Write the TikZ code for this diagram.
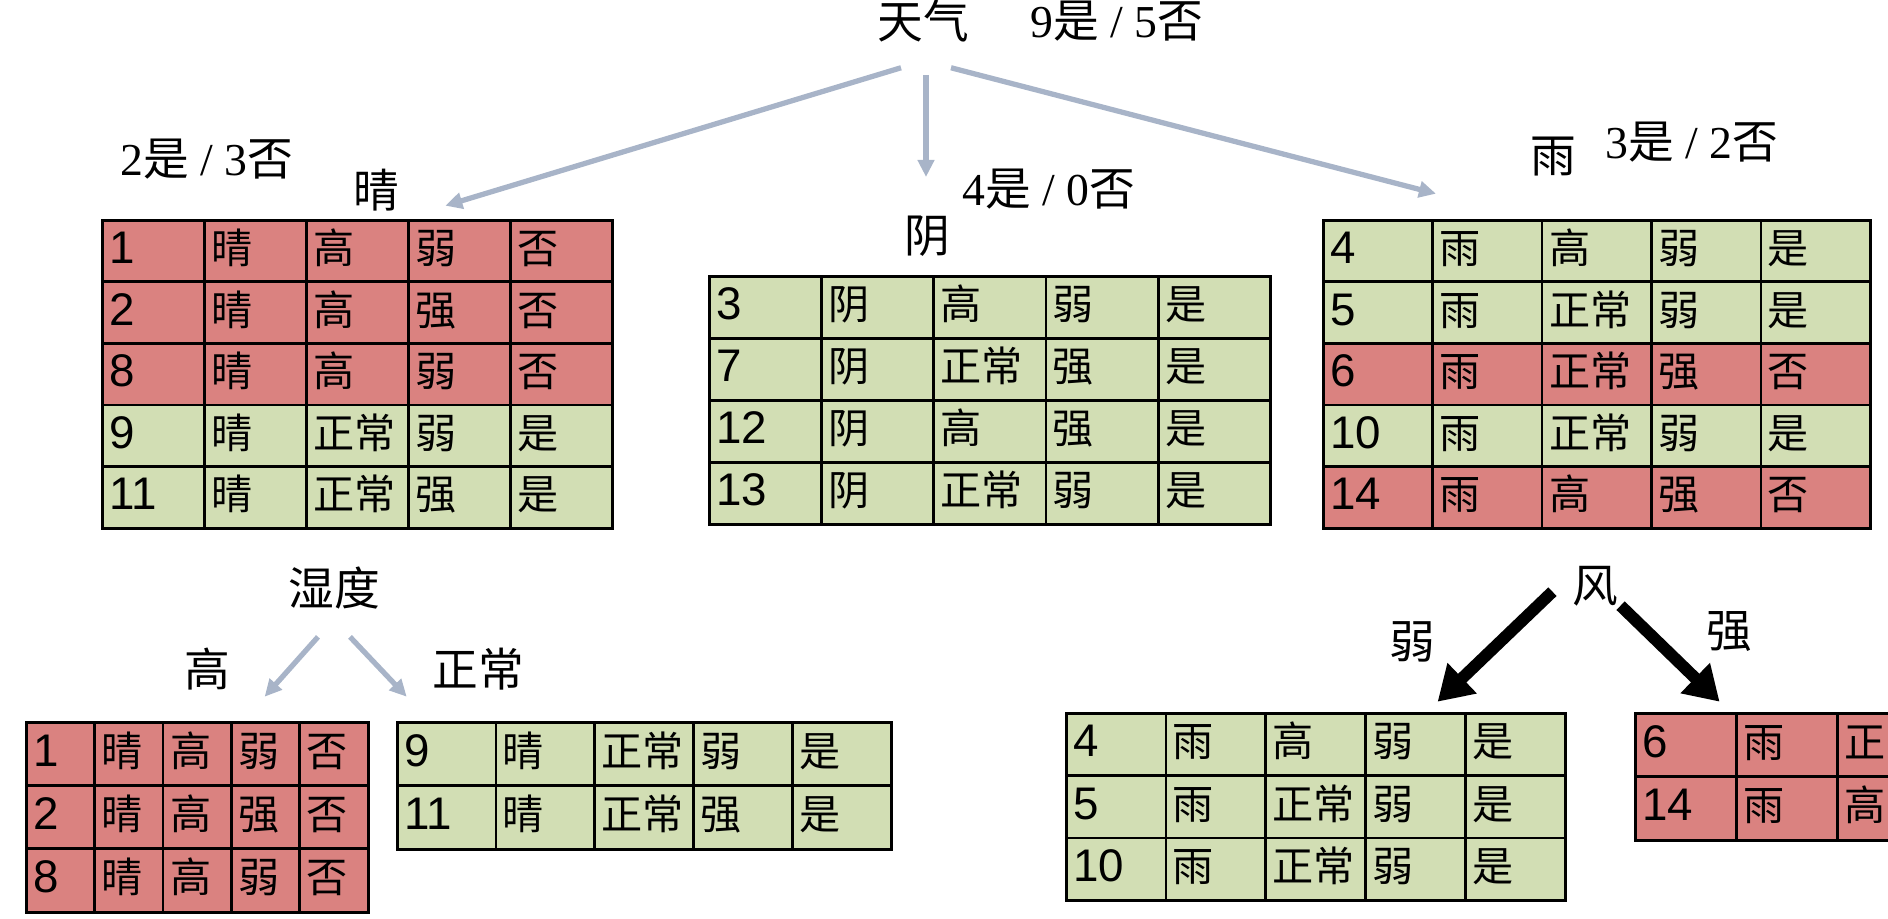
\documentclass[tikz,border=0pt]{standalone}
\usepackage{fontspec}
\setmainfont{Liberation Serif}
\setsansfont{Liberation Sans}
\newfontfamily\cjk{Noto Sans CJK SC}
\usepackage{xcolor}
\usetikzlibrary{arrows.meta,matrix,calc}
\definecolor{noRed}{HTML}{DA8280}
\definecolor{yesGreen}{HTML}{D2DEB4}
\definecolor{linkGray}{HTML}{A8B4C8}
\newcommand\tally[2]{#1{\cjk 是} / #2{\cjk 否}}

\begin{document}
\begin{tikzpicture}[x=0.01cm,y=-0.01cm,
cell/.style={draw,line width=0.8pt,anchor=center,inner xsep=0.07cm,inner ysep=0pt,align=left,text height=0.33cm,text depth=0.08cm,font=\fontsize{11.7}{13}\selectfont\cjk},
num/.style={font=\fontsize{13}{14}\selectfont\sffamily},
no/.style={fill=noRed},
yes/.style={fill=yesGreen},
tbl/.style n args={4}{matrix of nodes,anchor=north west,inner sep=0pt,column sep=-0.8pt,row sep=-0.8pt,
  nodes={cell,#4,minimum width=#1cm,text width=#2cm,minimum height=#3cm},column 1/.style={nodes=num}},
lbl/.style={font=\fontsize{13}{15}\selectfont,inner sep=0pt},
arrow/.style={-{Triangle[length=0.17cm,width=0.16cm]},linkGray,line width=1.5pt},
bigarrow/.style={-{Triangle[length=0.34cm,width=0.4cm]},line width=3.4pt,black}
]
\useasboundingbox (0,0) rectangle (1888,918);
\clip (0,0) rectangle (1888,918);

% root
\node[lbl] (weather) at (923,21) {\cjk 天气};
\node[lbl] (wtally) at (1117,21) {\tally{9}{5}};

% sunny branch
\node[lbl] (stally) at (207,159) {\tally{2}{3}};
\node[lbl] (sunlbl) at (376,190) {\cjk 晴};
\matrix (sunny) [tbl={1.02}{0.88}{0.616}{no},row 4/.style={nodes=yes},row 5/.style={nodes=yes}] at (100,218) {
1 & 晴 & 高 & 弱 & 否 \\
2 & 晴 & 高 & 强 & 否 \\
8 & 晴 & 高 & 弱 & 否 \\
9 & 晴 & 正常 & 弱 & 是 \\
11 & 晴 & 正常 & 强 & 是 \\
};

% overcast branch
\node[lbl] (ctally) at (1049,189) {\tally{4}{0}};
\node[lbl] (cloudlbl) at (927,236) {\cjk 阴};
\matrix (cloudy) [tbl={1.122}{0.982}{0.62}{yes}] at (707,274) {
3 & 阴 & 高 & 弱 & 是 \\
7 & 阴 & 正常 & 强 & 是 \\
12 & 阴 & 高 & 强 & 是 \\
13 & 阴 & 正常 & 弱 & 是 \\
};

% rainy branch
\node[lbl] (rainlbl) at (1553,157) {\cjk 雨};
\node[lbl] (rtally) at (1692,142) {\tally{3}{2}};
\matrix (rainy) [tbl={1.094}{0.954}{0.616}{yes},row 3/.style={nodes=no},row 5/.style={nodes=no}] at (1321,218) {
4 & 雨 & 高 & 弱 & 是 \\
5 & 雨 & 正常 & 弱 & 是 \\
6 & 雨 & 正常 & 强 & 否 \\
10 & 雨 & 正常 & 弱 & 是 \\
14 & 雨 & 高 & 强 & 否 \\
};

\draw[arrow] ($(weather.south)+(-22,25)$) -- ($(sunny-1-4.north)+(-14,-13)$);
\draw[arrow] ($(weather.south)+(3,32)$) -- ($(cloudlbl.north)+(-1,-38)$);
\draw[arrow] ($(weather.south)+(28,25)$) -- ($(rainy-1-1.north east)+(2,-25)$);

% humidity split
\node[lbl] (humid) at (334,588) {\cjk 湿度};
\node[lbl] (highlbl) at (207,669) {\cjk 高};
\node[lbl] (normlbl) at (478,669) {\cjk 正常};
\matrix (hot) [tbl={0.684}{0.544}{0.633}{no}] at (24,720) {
1 & 晴 & 高 & 弱 & 否 \\
2 & 晴 & 高 & 强 & 否 \\
8 & 晴 & 高 & 弱 & 否 \\
};
\matrix (normal) [tbl={0.988}{0.848}{0.635}{yes}] at (395,720) {
9 & 晴 & 正常 & 弱 & 是 \\
11 & 晴 & 正常 & 强 & 是 \\
};
\draw[arrow] ($(humid.south)+(-16,27)$) -- ($(hot-1-4.north)+(-1,-24)$);
\draw[arrow] ($(humid.south)+(16,27)$) -- ($(normal-1-1.north west)+(11,-24)$);

% wind split
\node[lbl] (wind) at (1595,586) {\cjk 风};
\node[lbl] (weaklbl) at (1412,642) {\cjk 弱};
\node[lbl] (stronglbl) at (1729,632) {\cjk 强};
\matrix (weak) [tbl={0.998}{0.858}{0.624}{yes}] at (1064,711) {
4 & 雨 & 高 & 弱 & 是 \\
5 & 雨 & 正常 & 弱 & 是 \\
10 & 雨 & 正常 & 弱 & 是 \\
};
\matrix (strong) [tbl={1.01}{0.87}{0.635}{no}] at (1633,711) {
6 & 雨 & 正常 & 强 & 否 \\
14 & 雨 & 高 & 强 & 否 \\
};
\draw[bigarrow] ($(wind.south west)+(-19,-15)$) -- ($(weak-1-4.north)+(22,-10)$);
\draw[bigarrow] ($(wind.south east)+(2,-1)$) -- ($(strong-1-1.north east)+(-18,-10)$);
\end{tikzpicture}
\end{document}
